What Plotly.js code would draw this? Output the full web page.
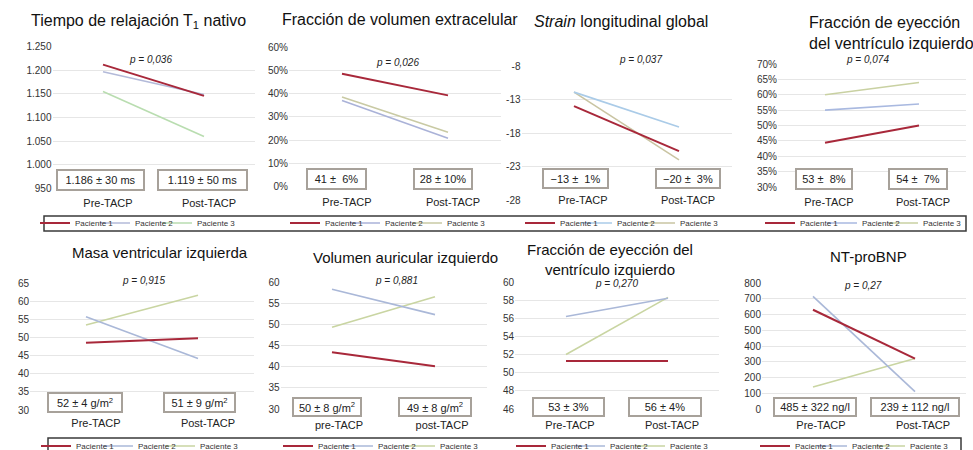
<!DOCTYPE html>
<html>
<head>
<meta charset="utf-8">
<script src="https://cdn.plot.ly/plotly-3.0.1.min.js"></script>
<style>
  html, body { margin: 0; padding: 0; background: #ffffff; }
  #chart { width: 973px; height: 450px; }
</style>
</head>
<body>
<div id="chart"></div>
<script>
// ---------------- DATA ----------------
const categories = ["Pre-TACP", "Post-TACP"];
const categoriesLower = ["pre-TACP", "post-TACP"];
const patientNames = ["Paciente 1", "Paciente 2", "Paciente 3"];

// 1. Tiempo de relajación T1 nativo (ms)
const t1P1 = [1212, 1146];
const t1P2 = [1197, 1149];
const t1P3 = [1155, 1060];
const t1Summary = ["1.186 ± 30 ms", "1.119 ± 50 ms"];

// 2. Fracción de volumen extracelular (%)
const vecP1 = [48.5, 39.2];
const vecP2 = [37, 20.7];
const vecP3 = [38.5, 23.3];
const vecSummary = ["41 ± &nbsp;6%", "28 ± 10%"];

// 3. Strain longitudinal global (%)
const slgP1 = [-14.0, -20.7];
const slgP2 = [-11.9, -17.1];
const slgP3 = [-11.9, -22.0];
const slgSummary = ["−13 ± &nbsp;1%", "−20 ± &nbsp;3%"];
const slgTickVals = [-28, -23, -18, -13, -8];
const slgTickText = ["-28", "-23", "-18", "-13", "-8"];

// 4. Fracción de eyección del ventrículo izquierdo (%), fila superior
const fevi1P1 = [44.4, 50];
const fevi1P2 = [55, 57];
const fevi1P3 = [60, 64];
const fevi1Summary = ["53 ± &nbsp;8%", "54 ± &nbsp;7%"];

// 5. Masa ventricular izquierda (g/m2)
const masaP1 = [48.5, 49.8];
const masaP2 = [55.7, 44.2];
const masaP3 = [53.4, 61.6];
const masaSummary = ["52 ± 4 g/m<sup>2</sup>", "51 ± 9 g/m<sup>2</sup>"];

// 6. Volumen auricular izquierdo
const vaiP1 = [43.4, 40.1];
const vaiP2 = [58.3, 52.3];
const vaiP3 = [49.3, 56.5];
const vaiSummary = ["50 ± 8 g/m<sup>2</sup>", "49 ± 8 g/m<sup>2</sup>"];

// 7. Fracción de eyección del ventrículo izquierdo (%), fila inferior
const fevi2P1 = [51.3, 51.3];
const fevi2P2 = [56.2, 58.2];
const fevi2P3 = [52.0, 58.3];
const fevi2Summary = ["53 ± 3%", "56 ± 4%"];

// 8. NT-proBNP (ng/l)
const ntP1 = [630, 320];
const ntP2 = [715, 110];
const ntP3 = [140, 320];
const ntSummary = ["485 ± 322 ng/l", "239 ± 112 ng/l"];

const pValues = ["0,036", "0,026", "0,037", "0,074", "0,915", "0,881", "0,270", "0,27"];
const panelTitles = [
  "Tiempo de relajación T<sub>1</sub> nativo",
  "Fracción de volumen extracelular",
  "<i>Strain</i> longitudinal global",
  "Fracción de eyección<br>del ventrículo izquierdo",
  "Masa ventricular izquierda",
  "Volumen auricular izquierdo",
  "Fracción de eyección del<br>ventrículo izquierdo",
  "NT-proBNP"
];

// ---------------- LAYOUT / STYLE ----------------
const W = 973, H = 450;
const fx = px => px / W;
const fy = py => 1 - py / H;
const FONT = "Liberation Sans, Arial, Helvetica, sans-serif";

const red = "#a8283a";
const panels = [
  { series: [t1P1, t1P2, t1P3], cats: categories, summary: t1Summary,
    xd: [52.5, 254.5], yd: [46.7, 188.5], range: [950, 1250], tick0: 950, dtick: 50, fmt: ",d", suf: "",
    xstand: 6, xshift: 5,
    colors: [red, "#b3bad9", "#b9ddb0"],
    boxes: [[100.5, 180, 89, 22], [202.5, 180, 91, 22]],
    p: [150, 60], title: [138, 22, "center"], tsize: 16, legendX: [75, 135, 197], legendY: 223 },
  { series: [vecP1, vecP2, vecP3], cats: categories, summary: vecSummary,
    xd: [289, 501], yd: [47, 186.5], range: [0, 60], tick0: 0, dtick: 10, fmt: "d", suf: "%",
    xstand: 7, xshift: 5,
    colors: [red, "#aab2d8", "#c9caa4"],
    boxes: [[336.5, 179, 61, 22], [443, 179, 60, 22]],
    p: [397, 62], title: [400, 20, "center"], tsize: 16, legendX: [325, 385, 447], legendY: 223 },
  { series: [slgP1, slgP2, slgP3], cats: categories, summary: slgSummary,
    xd: [521.5, 731.5], yd: [66, 200], range: [-28, -8], tickvals: slgTickVals, ticktext: slgTickText,
    fmt: "d", suf: "", xfree: 191.5,
    xstand: 0, xshift: 9,
    colors: [red, "#aacbe8", "#c9c4a2"],
    boxes: [[575.5, 178.5, 67, 21], [688, 178.5, 66, 21]],
    p: [640, 59], title: [621, 22, "center"], tsize: 16, legendX: [560, 617, 680], legendY: 223 },
  { series: [fevi1P1, fevi1P2, fevi1P3], cats: categories, summary: fevi1Summary,
    xd: [778, 966], yd: [64, 187], range: [30, 70], tick0: 30, dtick: 5, fmt: "d", suf: "%",
    xstand: 7, xshift: 4,
    colors: [red, "#a9b9e0", "#c9d1a2"],
    boxes: [[824, 179, 58, 22], [918, 179, 60, 22]],
    p: [867, 60], title: [807, 33, "left"], tsize: 16, legendX: [800, 862, 923], legendY: 223 },
  { series: [masaP1, masaP2, masaP3], cats: categories, summary: masaSummary,
    xd: [30, 254], yd: [283, 410], range: [30, 65], tick0: 30, dtick: 5, fmt: "d", suf: "",
    xstand: 5, xshift: 10,
    colors: [red, "#aab8d8", "#c9d5a2"],
    boxes: [[85, 402.5, 76, 21], [199.5, 402.5, 73, 21]],
    p: [143, 280], title: [160, 253, "center"], tsize: 15, legendX: [76, 138, 200], legendY: 446 },
  { series: [vaiP1, vaiP2, vaiP3], cats: categoriesLower, summary: vaiSummary,
    xd: [280.5, 486.5], yd: [282, 409], range: [30, 60], tick0: 30, dtick: 5, fmt: "d", suf: "",
    xstand: 8, xshift: 7,
    colors: [red, "#aab8d8", "#c9d5a2"],
    boxes: [[327, 407, 70, 20], [435, 407, 74, 20]],
    p: [396, 280], title: [405, 257, "center"], tsize: 15, legendX: [318, 378, 440], legendY: 446 },
  { series: [fevi2P1, fevi2P2, fevi2P3], cats: categories, summary: fevi2Summary,
    xd: [515, 719], yd: [282, 409], range: [46, 60], tick0: 46, dtick: 2, fmt: "d", suf: "",
    xstand: 8, xshift: 4,
    colors: [red, "#aab8d8", "#c9d5a2"],
    boxes: [[568.5, 407, 73, 20], [665, 407, 74, 20]],
    p: [616, 283], title: [610, 259, "center"], tsize: 15, legendX: [551, 610, 670], legendY: 446 },
  { series: [ntP1, ntP2, ntP3], cats: categories, summary: ntSummary,
    xd: [762, 966], yd: [283, 409], range: [0, 800], tick0: 0, dtick: 100, fmt: "d", suf: "",
    xstand: 8, xshift: 8,
    colors: [red, "#aab8d8", "#c9d5a2"],
    boxes: [[815, 407, 84, 20], [915, 407, 90, 20]],
    p: [863, 285], title: [868, 256, "center"], tsize: 15, legendX: [795, 852, 910], legendY: 446 }
];

const traces = [];
const layout = {
  width: W, height: H,
  margin: { l: 0, r: 0, t: 0, b: 0, autoexpand: false },
  paper_bgcolor: "#ffffff", plot_bgcolor: "rgba(0,0,0,0)",
  separators: ",.",
  showlegend: true,
  font: { family: FONT, color: "#222" },
  annotations: [], shapes: []
};

let legendCount = 0;
panels.forEach((pn, i) => {
  const n = i + 1;
  const xa = n === 1 ? "x" : "x" + n;
  const ya = n === 1 ? "y" : "y" + n;
  // patients pushed in reverse so that each legend text is drawn over the next sample line
  [2, 1, 0].forEach(k => {
    legendCount++;
    const lg = legendCount === 1 ? "legend" : "legend" + legendCount;
    traces.push({
      type: "scatter", mode: "lines",
      x: pn.cats, y: pn.series[k],
      name: patientNames[k],
      xaxis: xa, yaxis: ya, legend: lg, showlegend: true,
      line: { color: pn.colors[k], width: k === 0 ? 2 : 1.6 },
      hoverinfo: "skip"
    });
    layout[lg] = {
      orientation: "h", x: fx(pn.legendX[k] - 40), xanchor: "left",
      y: fy(pn.legendY), yanchor: "middle",
      font: { size: 8, color: "#333", family: FONT },
      bgcolor: "rgba(0,0,0,0)", borderwidth: 0, itemwidth: 30, visible: true
    };
  });
  const yaxis = {
    domain: [fy(pn.yd[1]), fy(pn.yd[0])], anchor: xa,
    range: pn.range,
    tickformat: pn.fmt, ticksuffix: pn.suf,
    showgrid: true, gridcolor: "#e6e6e6", gridwidth: 1,
    zeroline: false, showline: false, ticks: "",
    tickfont: { size: 10, color: "#333", family: FONT },
    fixedrange: true
  };
  if (pn.tickvals) {
    yaxis.tickmode = "array"; yaxis.tickvals = pn.tickvals; yaxis.ticktext = pn.ticktext;
  } else {
    yaxis.tickmode = "linear"; yaxis.tick0 = pn.tick0; yaxis.dtick = pn.dtick;
  }
  layout["yaxis" + (n === 1 ? "" : n)] = yaxis;
  const xaxis = {
    domain: [fx(pn.xd[0]), fx(pn.xd[1])], anchor: ya,
    type: "category", range: [-0.5, 1.5], categoryorder: "array", categoryarray: pn.cats,
    showgrid: false, zeroline: false, showline: false, ticks: "",
    tickfont: { size: 11, color: "#222", family: FONT },
    ticklabelstandoff: pn.xstand, ticklabelshift: pn.xshift, fixedrange: true
  };
  if (pn.xfree) { xaxis.anchor = "free"; xaxis.position = fy(pn.xfree); }
  layout["xaxis" + (n === 1 ? "" : n)] = xaxis;
  // title
  layout.annotations.push({
    xref: "paper", yref: "paper", x: fx(pn.title[0]), y: fy(pn.title[1]),
    xanchor: pn.title[2] === "left" ? "left" : "center", yanchor: "middle",
    align: pn.title[2], text: panelTitles[i], showarrow: false,
    font: { size: pn.tsize, color: "#111", family: FONT }
  });
  // p value
  layout.annotations.push({
    xref: "paper", yref: "paper", x: fx(pn.p[0]), y: fy(pn.p[1]),
    xanchor: "center", yanchor: "middle", showarrow: false,
    text: "<i>p = " + pValues[i] + "</i>",
    font: { size: 10, color: "#222", family: FONT }
  });
  // summary boxes
  pn.boxes.forEach((b, k) => {
    layout.annotations.push({
      xref: "paper", yref: "paper", x: fx(b[0]), y: fy(b[1]),
      xanchor: "center", yanchor: "middle", showarrow: false,
      text: pn.summary[k], width: b[2] - 4, height: b[3] - 4,
      bgcolor: "#ffffff", bordercolor: "#a7a19a", borderwidth: 2, borderpad: 0,
      font: { size: 11, color: "#222", family: FONT }
    });
  });
});

// legend frames
layout.shapes.push({ type: "rect", xref: "paper", yref: "paper",
  x0: fx(44), x1: fx(966), y0: fy(231), y1: fy(216),
  line: { color: "#3a3a3a", width: 1.5 }, fillcolor: "rgba(0,0,0,0)", layer: "below" });
layout.shapes.push({ type: "rect", xref: "paper", yref: "paper",
  x0: fx(48), x1: fx(961), y0: fy(455), y1: fy(438),
  line: { color: "#3a3a3a", width: 1.5 }, fillcolor: "rgba(0,0,0,0)", layer: "below" });

Plotly.newPlot("chart", traces, layout, { displayModeBar: false, staticPlot: true });
</script>
</body>
</html>
